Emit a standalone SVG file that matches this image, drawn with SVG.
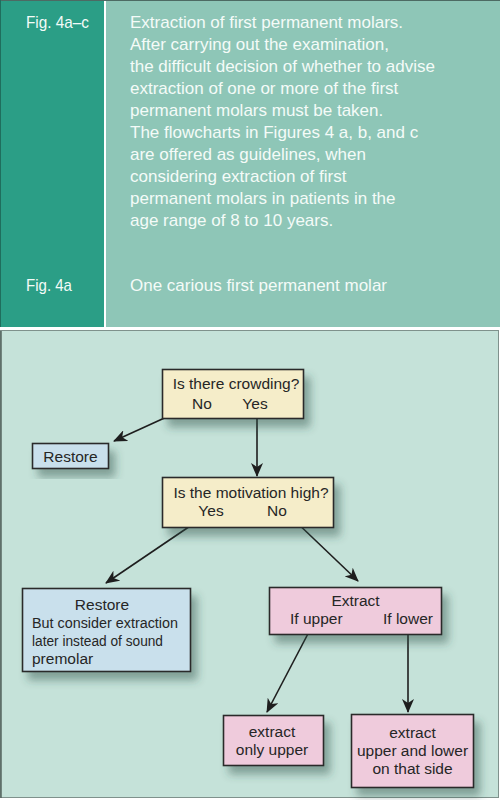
<svg xmlns="http://www.w3.org/2000/svg" width="500" height="800" viewBox="0 0 500 800">
<defs>
<style>
.hd{font-family:"Liberation Sans",Arial,sans-serif;font-size:17px;fill:#f4fbf8}
.bx{font-family:"Liberation Sans",Arial,sans-serif;font-size:15.5px;fill:#262626}
.c{text-anchor:middle}
.box{stroke:#2b2b2b;stroke-width:1.6}
.cream{fill:#f5edc9}
.blue{fill:#c9e0ec}
.pink{fill:#efcbdc}
.con line{stroke:#1e1e1e;stroke-width:1.6;marker-end:url(#ah)}
</style>
<marker id="ah" viewBox="0 0 14 12" refX="13" refY="6" markerWidth="14" markerHeight="12" markerUnits="userSpaceOnUse" orient="auto">
<path d="M0,0 L14,6 L0,12 L4,6 Z" fill="#1e1e1e"/>
</marker>
<filter id="sh" x="-20%" y="-20%" width="150%" height="160%">
<feDropShadow dx="6" dy="8" stdDeviation="4" flood-color="#2f4f47" flood-opacity="0.45"/>
</filter>
</defs>

<!-- top panel -->
<rect x="0" y="0" width="500" height="331" fill="#ffffff"/>
<rect x="0" y="0" width="104" height="327" fill="#2b9e86"/>
<rect x="106" y="0" width="394" height="327" fill="#8ec6b7"/>
<line x1="0" y1="0.5" x2="500" y2="0.5" stroke="#4d6a63" stroke-width="1"/>
<line x1="0.5" y1="0" x2="0.5" y2="327" stroke="#1f6e5d" stroke-width="1"/>

<g id="header">
<text class="hd" x="26" y="27.5" textLength="63" lengthAdjust="spacingAndGlyphs">Fig. 4a–c</text>
<text class="hd" x="130" y="27.5">Extraction of first permanent molars.</text>
<text class="hd" x="130" y="49.5">After carrying out the examination,</text>
<text class="hd" x="130" y="71.5">the difficult decision of whether to advise</text>
<text class="hd" x="130" y="93.5">extraction of one or more of the first</text>
<text class="hd" x="130" y="115.5">permanent molars must be taken.</text>
<text class="hd" x="130" y="137.5">The flowcharts in Figures 4 a, b, and c</text>
<text class="hd" x="130" y="159.5">are offered as guidelines, when</text>
<text class="hd" x="130" y="181.5">considering extraction of first</text>
<text class="hd" x="130" y="203.5">permanent molars in patients in the</text>
<text class="hd" x="130" y="225.5">age range of 8 to 10 years.</text>
<text class="hd" x="26" y="291" textLength="46" lengthAdjust="spacingAndGlyphs">Fig. 4a</text>
<text class="hd" x="130" y="291">One carious first permanent molar</text>
</g>

<!-- bottom panel -->
<rect x="0.5" y="330.5" width="498" height="467" fill="#c5e2d9" stroke="#7f918c" stroke-width="1"/>
<line x1="1" y1="331" x2="1" y2="798" stroke="#55665f" stroke-width="1.5"/>

<g class="con" id="connectors">
<line x1="182" y1="410" x2="114" y2="441"/>
<line x1="257" y1="412" x2="257" y2="476"/>
<line x1="199" y1="520" x2="106" y2="583"/>
<line x1="292" y1="518" x2="358" y2="581"/>
<line x1="311" y1="628" x2="267" y2="712"/>
<line x1="408" y1="630" x2="408" y2="712"/>
</g>

<g id="crowding">
<rect class="box cream" x="162.5" y="369.5" width="141" height="49" filter="url(#sh)"/>
<text class="bx c" x="236" y="388.5">Is there crowding?</text>
<text class="bx c" x="202" y="408.5">No</text>
<text class="bx c" x="255" y="408.5">Yes</text>
</g>

<g id="restore1">
<rect class="box blue" x="32.5" y="443.5" width="76" height="25" filter="url(#sh)"/>
<text class="bx c" x="70.5" y="461.5">Restore</text>
</g>

<g id="motivation">
<rect class="box cream" x="162.5" y="477.5" width="171" height="50" filter="url(#sh)"/>
<text class="bx c" x="251" y="497.5">Is the motivation high?</text>
<text class="bx c" x="211" y="515.5">Yes</text>
<text class="bx c" x="277" y="515.5">No</text>
</g>

<g id="restore2">
<rect class="box blue" x="22.5" y="588.5" width="168" height="83" filter="url(#sh)"/>
<text class="bx c" x="102" y="609.5">Restore</text>
<text class="bx" x="32" y="627.5" textLength="146" lengthAdjust="spacingAndGlyphs">But consider extraction</text>
<text class="bx" x="32" y="645.5" textLength="131" lengthAdjust="spacingAndGlyphs">later instead of sound</text>
<text class="bx" x="32" y="663.5">premolar</text>
</g>

<g id="extract">
<rect class="box pink" x="269.5" y="587.5" width="172" height="47" filter="url(#sh)"/>
<text class="bx c" x="355.5" y="605.5">Extract</text>
<text class="bx" x="290" y="623.5">If upper</text>
<text class="bx" x="383" y="623.5">If lower</text>
</g>

<g id="onlyupper">
<rect class="box pink" x="223.5" y="715.5" width="100" height="50" filter="url(#sh)"/>
<text class="bx c" x="272" y="736.5">extract</text>
<text class="bx c" x="272" y="754.5">only upper</text>
</g>

<g id="upperlower">
<rect class="box pink" x="351.5" y="714.5" width="122" height="73" filter="url(#sh)"/>
<text class="bx c" x="412.5" y="737.5">extract</text>
<text class="bx c" x="412.5" y="755.5">upper and lower</text>
<text class="bx c" x="412.5" y="773.5">on that side</text>
</g>
</svg>
